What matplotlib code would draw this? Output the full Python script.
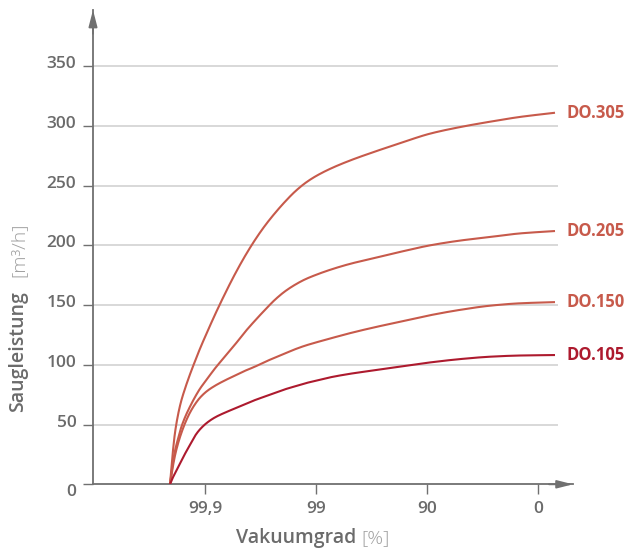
import numpy as np
import matplotlib
matplotlib.use("Agg")
import matplotlib.pyplot as plt
from matplotlib.transforms import ScaledTranslation

# x: residual pressure (100 - Vakuumgrad) in %, plotted on a log axis
residual = [0.04838, 0.05095, 0.05366, 0.05712, 0.06078, 0.06604, 0.07325, 0.08127,
            0.09015, 0.1042, 0.1231, 0.1514, 0.1864, 0.2293, 0.2821, 0.3472, 0.4272,
            0.5256, 0.6467, 0.7960, 0.9795, 1.337, 2.024, 3.401, 5.711, 10.64, 19.83,
            36.95, 68.84, 142.3]

do305 = [0, 24, 43, 58, 69, 80, 92, 103, 113.5, 127, 142, 159.5, 176, 191, 204.5, 216.5,
         227, 236.5, 245, 252, 257.5, 264, 271, 278.5, 285.5, 293.5, 299, 303.5, 307.5, 311]
do205 = [0, 16, 28, 38, 47, 56, 65, 73, 80, 88, 97, 107, 117, 127.5, 137, 146, 154.5,
         161.5, 167, 171.5, 175, 179.5, 184.5, 189.5, 194.5, 200, 204, 207, 210, 212]
do150 = [0, 13, 24, 34, 42, 51, 60, 67, 72.5, 78, 82.5, 87, 91, 95, 98.5, 102.5, 106,
         109.5, 113, 116, 118.5, 122, 126.5, 131.5, 136, 141.5, 146, 149.5, 151.5, 152.5]
do105 = [0, 5, 9, 14, 19, 25.5, 33, 40.5, 46, 51.5, 56, 60, 63.5, 67, 70.5, 73.5, 76.5,
         79.5, 82, 84.5, 86.5, 89.5, 92.5, 95.5, 98.5, 102, 104.8, 106.8, 107.8, 108.2]

series_names = ["DO.305", "DO.205", "DO.150", "DO.105"]
series_values = [do305, do205, do150, do105]
series_colors = ["#c75a4b", "#c75a4b", "#c75a4b", "#ad1a2e"]

xtick_pos = [0.1, 1, 10, 100]
xtick_labels = ["99,9", "99", "90", "0"]
ytick_vals = [0, 50, 100, 150, 200, 250, 300, 350]

FONT = "Open Sans"
GRAY = "#6b6b6b"
AXIS = "#707070"


def pchip_line(x, y, per=16):
    """Monotone cubic drawing path through the read points (in log-x space)."""
    lx = np.log10(np.asarray(x, float))
    yy = np.asarray(y, float)
    h = np.diff(lx)
    d = np.diff(yy) / h
    m = np.zeros_like(yy)
    m[0], m[-1] = d[0], d[-1]
    for k in range(1, len(yy) - 1):
        if d[k - 1] * d[k] > 0:
            w1 = 2 * h[k] + h[k - 1]
            w2 = h[k] + 2 * h[k - 1]
            m[k] = (w1 + w2) / (w1 / d[k - 1] + w2 / d[k])
    xs, ys = [], []
    for k in range(len(h)):
        t = np.linspace(0, 1, per, endpoint=False)
        h00 = 2 * t**3 - 3 * t**2 + 1
        h10 = t**3 - 2 * t**2 + t
        h01 = -2 * t**3 + 3 * t**2
        h11 = t**3 - t**2
        xs.append(lx[k] + t * h[k])
        ys.append(h00 * yy[k] + h10 * h[k] * m[k] + h01 * yy[k + 1] + h11 * h[k] * m[k + 1])
    xs.append([lx[-1]])
    ys.append([yy[-1]])
    return 10 ** np.concatenate(xs), np.concatenate(ys)


fig = plt.figure(figsize=(6.26, 5.52), dpi=100)
ax = fig.add_axes([93 / 626, (552 - 484.3) / 552, (573 - 93) / 626, (484.3 - 10) / 552])
ax.set_xscale("log")
ax.set_xlim(0.0098, 206.7)
ax.set_ylim(0, 397)

# grid lines
for y in ytick_vals[1:]:
    ax.axhline(y, xmin=0, xmax=(557 - 93) / 480, color="#d8d8d8", lw=1.4, zorder=1)

for name, vals, col in zip(series_names, series_values, series_colors):
    sx, sy = pchip_line(residual, vals)
    ax.plot(sx, sy, color=col, lw=1.5, zorder=3, solid_capstyle="butt")
    ax.annotate(name, xy=(residual[-1], vals[-1]), xytext=(8, 0),
                textcoords="offset points", va="center", ha="left",
                color=col, fontsize=12, fontweight="bold", family=FONT)

for s in ["top", "right"]:
    ax.spines[s].set_visible(False)
for s in ["left", "bottom"]:
    ax.spines[s].set_color(AXIS)
    ax.spines[s].set_linewidth(1.3)

# arrow heads
ax.annotate("", xy=(1, 0), xycoords="axes fraction", xytext=(0.95, 0),
            arrowprops=dict(arrowstyle="-|>,head_length=0.95,head_width=0.24",
                            color=AXIS, lw=1.3, shrinkA=0, shrinkB=0))
ax.annotate("", xy=(0, 1), xycoords="axes fraction", xytext=(0, 0.95),
            arrowprops=dict(arrowstyle="-|>,head_length=1.0,head_width=0.26",
                            color=AXIS, lw=1.3, shrinkA=0, shrinkB=0))

ax.set_yticks(ytick_vals)
ax.set_yticklabels([str(v) for v in ytick_vals])
ax.set_xticks(xtick_pos)
ax.set_xticklabels(xtick_labels)
ax.xaxis.set_minor_locator(matplotlib.ticker.NullLocator())
ax.tick_params(axis="y", length=7, width=1, color=AXIS, pad=5, labelsize=12.5,
               labelcolor=GRAY)
ax.tick_params(axis="x", length=7, width=1, color=AXIS, pad=5, labelsize=12.5,
               labelcolor=GRAY)
for lab in ax.get_xticklabels() + ax.get_yticklabels():
    lab.set_family(FONT)
    lab.set_fontweight("semibold")
for v, lab in zip(ytick_vals, ax.get_yticklabels()):
    dy = -6 / 72 if v == 0 else 4 / 72
    lab.set_transform(lab.get_transform() + ScaledTranslation(0, dy * 0.72, fig.dpi_scale_trans))

# axis titles
fig.text(18 / 626, 1 - 352 / 552, "Saugleistung", rotation=90, ha="center", va="center",
         color=GRAY, fontsize=14, fontweight="semibold", family=FONT)
fig.text(18 / 626, 1 - 250 / 552, "[m³/h]", rotation=90, ha="center", va="center",
         color="#a0a0a0", fontsize=14, fontweight="light", family=FONT)
fig.text(296 / 626, 1 - 538 / 552, "Vakuumgrad", ha="center", va="center",
         color=GRAY, fontsize=14, fontweight="semibold", family=FONT)
fig.text(376 / 626, 1 - 538 / 552, "[%]", ha="center", va="center",
         color="#a0a0a0", fontsize=14, fontweight="light", family=FONT)

fig.savefig("out.png", dpi=100, facecolor="white")
